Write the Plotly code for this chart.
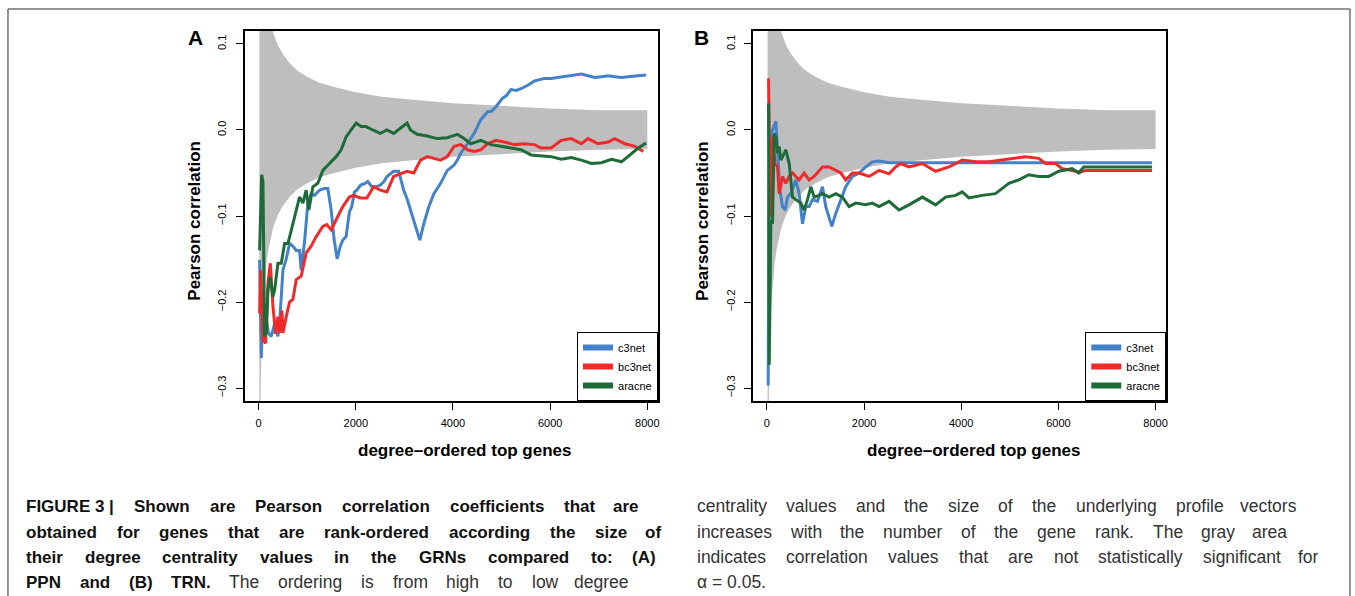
import plotly.graph_objects as go

# ---------------- data ----------------
series_names = ["c3net", "bc3net", "aracne"]
series_colors = ["#4382C8", "#EE2A2A", "#1D6B38"]

# significance band (same in both panels)
band_x = [15, 20, 30, 40, 50, 60, 80, 100, 130, 160, 200, 250, 300, 400, 500, 650, 800,
          1000, 1250, 1500, 2000, 2500, 3000, 4000, 5000, 6000, 7000, 8000]
band_upper = [0.50, 0.438, 0.358, 0.310, 0.277, 0.253, 0.219, 0.196, 0.172, 0.155, 0.139, 0.124,
              0.113, 0.098, 0.088, 0.077, 0.069, 0.062, 0.055, 0.051, 0.044, 0.039, 0.036,
              0.031, 0.028, 0.025, 0.023, 0.023]
band_lower = [-0.50, -0.438, -0.358, -0.310, -0.277, -0.253, -0.219, -0.196, -0.172, -0.155, -0.139,
              -0.124, -0.113, -0.098, -0.088, -0.077, -0.069, -0.062, -0.055, -0.051, -0.044,
              -0.039, -0.036, -0.031, -0.028, -0.025, -0.023, -0.022]

# Panel A (PPN)
a_c3net_x = [20, 55, 90, 150, 200, 260, 330, 397, 431, 500, 568, 637, 705, 774, 842, 876, 945, 1013,
             1081, 1150, 1253, 1350, 1424, 1493, 1555, 1616, 1680, 1732, 1800, 1869, 1917, 1972, 2021,
             2100, 2193, 2246, 2331, 2420, 2504, 2580, 2641, 2779, 2883, 2986, 3055, 3124, 3228, 3317,
             3400, 3504, 3607, 3745, 3883, 4021, 4090, 4159, 4297, 4435, 4573, 4710, 4800, 4883, 5021,
             5100, 5193, 5300, 5400, 5538, 5676, 5883, 6020, 6159, 6366, 6500, 6642, 6780, 6917, 7055,
             7193, 7331, 7469, 7600, 7745, 7973]
a_c3net_y = [-0.151, -0.265, -0.200, -0.215, -0.236, -0.240, -0.225, -0.240, -0.225, -0.163, -0.150,
             -0.132, -0.135, -0.140, -0.140, -0.163, -0.130, -0.085, -0.074, -0.076, -0.070, -0.068,
             -0.068, -0.093, -0.128, -0.150, -0.135, -0.128, -0.124, -0.095, -0.089, -0.072, -0.070,
             -0.064, -0.062, -0.060, -0.066, -0.066, -0.064, -0.060, -0.054, -0.048, -0.048, -0.070,
             -0.080, -0.093, -0.112, -0.128, -0.109, -0.089, -0.074, -0.062, -0.047, -0.041, -0.035,
             -0.027, -0.016, -0.004, 0.012, 0.021, 0.022, 0.027, 0.037, 0.040, 0.047, 0.046, 0.048,
             0.052, 0.057, 0.060, 0.060, 0.061, 0.063, 0.064, 0.065, 0.063, 0.061, 0.062, 0.063, 0.062,
             0.061, 0.062, 0.063, 0.064]

a_bc3net_x = [20, 41, 89, 144, 192, 240, 294, 349, 397, 431, 479, 500, 568, 637, 705, 774, 876, 979,
              1081, 1184, 1321, 1400, 1493, 1595, 1732, 1869, 1952, 2090, 2228, 2366, 2504, 2641, 2779,
              2917, 3055, 3193, 3331, 3469, 3607, 3745, 3883, 4021, 4159, 4297, 4435, 4573, 4710, 4883,
              5055, 5262, 5469, 5676, 5814, 6021, 6228, 6435, 6642, 6780, 6986, 7193, 7331, 7538, 7745,
              7917]
a_bc3net_y = [-0.213, -0.163, -0.244, -0.248, -0.178, -0.155, -0.205, -0.237, -0.217, -0.236, -0.210,
              -0.236, -0.217, -0.200, -0.197, -0.174, -0.170, -0.143, -0.135, -0.124, -0.112, -0.110,
              -0.116, -0.105, -0.089, -0.078, -0.076, -0.079, -0.079, -0.066, -0.070, -0.072, -0.054,
              -0.051, -0.048, -0.050, -0.035, -0.031, -0.033, -0.035, -0.031, -0.019, -0.017, -0.023,
              -0.025, -0.023, -0.016, -0.012, -0.014, -0.017, -0.016, -0.017, -0.021, -0.021, -0.012,
              -0.010, -0.016, -0.010, -0.016, -0.014, -0.010, -0.016, -0.019, -0.025]

a_aracne_x = [20, 62, 89, 103, 123, 157, 192, 240, 294, 329, 397, 466, 534, 603, 705, 774, 842, 911, 979,
              1034, 1116, 1218, 1321, 1458, 1595, 1698, 1800, 1903, 2006, 2109, 2211, 2348, 2504, 2641,
              2779, 2917, 3055, 3124, 3262, 3469, 3676, 3883, 4090, 4228, 4366, 4573, 4779, 4986, 5193,
              5400, 5607, 5814, 6021, 6228, 6435, 6642, 6848, 7055, 7262, 7469, 7642, 7814, 7973]
a_aracne_y = [-0.140, -0.052, -0.060, -0.155, -0.240, -0.236, -0.186, -0.171, -0.194, -0.186, -0.155,
              -0.155, -0.132, -0.132, -0.109, -0.093, -0.078, -0.085, -0.070, -0.093, -0.066, -0.062,
              -0.047, -0.039, -0.031, -0.023, -0.008, 0.000, 0.008, 0.004, 0.004, 0.000, -0.004, 0.000,
              -0.004, 0.002, 0.008, 0.000, -0.005, -0.007, -0.010, -0.009, -0.005, -0.010, -0.016,
              -0.012, -0.017, -0.019, -0.021, -0.023, -0.029, -0.030, -0.031, -0.034, -0.032, -0.035,
              -0.039, -0.038, -0.034, -0.037, -0.029, -0.021, -0.015]

# Panel B (TRN)
b_c3net_x = [27, 40, 62, 116, 185, 219, 267, 322, 377, 425, 493, 596, 664, 733, 801, 870, 938, 1041,
             1144, 1212, 1281, 1336, 1418, 1521, 1623, 1760, 1897, 2034, 2171, 2308, 2514, 7925]
b_c3net_y = [-0.297, -0.100, -0.020, 0.000, 0.010, -0.027, -0.070, -0.089, -0.093, -0.078, -0.074,
             -0.058, -0.074, -0.109, -0.089, -0.089, -0.081, -0.083, -0.066, -0.089, -0.101, -0.112,
             -0.097, -0.081, -0.066, -0.054, -0.050, -0.043, -0.037, -0.036, -0.038, -0.038]

b_bc3net_x = [34, 48, 75, 116, 171, 219, 253, 322, 390, 459, 527, 596, 664, 767, 870, 973, 1075, 1144,
              1281, 1418, 1521, 1623, 1760, 1897, 2103, 2308, 2514, 2651, 2754, 2925, 3199, 3473, 3747,
              4021, 4295, 4569, 4843, 5117, 5322, 5596, 5733, 5939, 6076, 6281, 6453, 6555, 7925]
b_bc3net_y = [0.060, -0.027, -0.101, -0.008, -0.039, -0.043, -0.074, -0.054, -0.062, -0.054, -0.050,
              -0.054, -0.058, -0.050, -0.058, -0.054, -0.047, -0.043, -0.043, -0.047, -0.050, -0.058,
              -0.050, -0.050, -0.054, -0.047, -0.051, -0.043, -0.039, -0.043, -0.039, -0.048, -0.043,
              -0.035, -0.037, -0.037, -0.035, -0.033, -0.031, -0.033, -0.039, -0.039, -0.045, -0.047,
              -0.049, -0.047, -0.047]

b_aracne_x = [34, 48, 82, 116, 151, 185, 219, 253, 288, 322, 390, 459, 527, 596, 699, 767, 836, 904, 973,
              1075, 1144, 1281, 1418, 1555, 1692, 1829, 2034, 2171, 2308, 2514, 2719, 2925, 3199, 3473,
              3678, 3884, 4021, 4158, 4432, 4706, 4980, 5185, 5391, 5596, 5802, 6007, 6281, 6418, 6521,
              7925]
b_aracne_y = [0.031, -0.273, -0.105, -0.109, -0.004, -0.008, -0.027, -0.019, -0.035, -0.031, -0.023,
              -0.039, -0.078, -0.081, -0.085, -0.093, -0.081, -0.066, -0.078, -0.076, -0.074, -0.078,
              -0.074, -0.078, -0.089, -0.085, -0.087, -0.085, -0.089, -0.083, -0.093, -0.087, -0.078,
              -0.087, -0.078, -0.076, -0.072, -0.079, -0.076, -0.074, -0.062, -0.058, -0.052, -0.054,
              -0.054, -0.048, -0.045, -0.050, -0.043, -0.043]

x_ticks = [0, 2000, 4000, 6000, 8000]
y_ticks = [-0.3, -0.2, -0.1, 0.0, 0.1]
panel_labels = ["A", "B"]
x_title = "degree\u2013ordered top genes"
y_title = "Pearson correlation"

caption_left = [
    [("FIGURE\u00a03\u00a0|", True), ("Shown", True), ("are", True), ("Pearson", True), ("correlation", True),
     ("coefficients", True), ("that", True), ("are", True)],
    [(w, True) for w in "obtained for genes that are rank-ordered according the size of".split()],
    [(w, True) for w in "their degree centrality values in the GRNs compared to: (A)".split()],
    [(w, True) for w in "PPN and (B) TRN.".split()] +
    [(w, False) for w in "The ordering is from high to low degree".split()],
]
caption_right = [
    [(w, False) for w in "centrality values and the size of the underlying profile vectors".split()],
    [(w, False) for w in "increases with the number of the gene rank. The gray area".split()],
    [(w, False) for w in "indicates correlation values that are not statistically significant for".split()],
    [("\u03b1 = 0.05.", False)],
]

# ---------------- layout helpers ----------------
W, H = 1355, 596


def px(xp):
    return xp / W


def py(yp):
    return 1 - yp / H


REG = dict(zip("abcdefghijklmnopqrstuvwxyz",
               [556, 556, 500, 556, 556, 278, 556, 556, 222, 222, 500, 222, 833, 556, 556, 556, 556, 333,
                500, 278, 556, 500, 722, 500, 500, 500]))
REG.update(dict(zip("ABCDEFGHIJKLMNOPQRSTUVWXYZ",
                    [667, 667, 722, 722, 667, 611, 778, 722, 278, 500, 667, 556, 833, 722, 778, 667, 778,
                     722, 667, 611, 722, 667, 944, 667, 667, 611])))
REG.update({" ": 278, "\u00a0": 278, ".": 278, ",": 278, "(": 333, ")": 333, "-": 333, ":": 278,
            "|": 260, "=": 584, "\u03b1": 580})
BOLD = dict(zip("abcdefghijklmnopqrstuvwxyz",
                [556, 611, 556, 611, 556, 333, 611, 611, 278, 278, 556, 278, 889, 611, 611, 611, 611, 389,
                 556, 333, 611, 556, 778, 556, 556, 500]))
BOLD.update(dict(zip("ABCDEFGHIJKLMNOPQRSTUVWXYZ",
                     [722, 722, 722, 722, 667, 611, 778, 722, 278, 556, 722, 611, 833, 722, 778, 667, 778,
                      722, 667, 611, 722, 667, 944, 667, 667, 611])))
BOLD.update({" ": 278, "\u00a0": 278, ".": 278, ",": 278, "(": 333, ")": 333, "-": 333, ":": 333,
             "|": 280, "=": 584})

CAP_FONT = "Liberation Sans, Arial, Helvetica, sans-serif"
BOLD_SIZE = 17
REG_SIZE = 17.5


def word_w(word, bold):
    tbl = BOLD if bold else REG
    size = BOLD_SIZE if bold else REG_SIZE
    return sum(tbl.get(ch, 556) for ch in word) * size / 1000


annotations = []


def caption_line(tokens, left, right, yc, justify=True):
    widths = [word_w(w, b) for w, b in tokens]
    n = len(tokens)
    if justify and n > 1:
        gap = (right - left - sum(widths)) / (n - 1)
    else:
        gap = 278 * REG_SIZE / 1000
    x = left
    for i, (w, b) in enumerate(tokens):
        last = justify and n > 1 and i == n - 1
        annotations.append(dict(
            text=w, xref="paper", yref="paper",
            x=px(right) if last else px(x), y=py(yc),
            xanchor="right" if last else "left", yanchor="middle", showarrow=False,
            font=dict(family=CAP_FONT, size=BOLD_SIZE if b else REG_SIZE,
                      color="#111" if b else "#333",
                      weight="bold" if b else "normal"),
            borderpad=0,
        ))
        x += widths[i] + gap


left_rights = [641, 663, 658, 631]
right_rights = [1300, 1290, 1322, None]
line_y = [506, 532, 557, 582]
for tokens, r, yc in zip(caption_left, left_rights, line_y):
    caption_line(tokens, 25, r, yc)
for tokens, r, yc in zip(caption_right, right_rights, line_y):
    caption_line(tokens, 697, r if r else 0, yc, justify=r is not None)

# ---------------- figure ----------------
fig = go.Figure()

panels = [
    dict(xa="x", ya="y", leg="legend",
         series=[(a_c3net_x, a_c3net_y), (a_bc3net_x, a_bc3net_y), (a_aracne_x, a_aracne_y)]),
    dict(xa="x2", ya="y2", leg="legend2",
         series=[(b_c3net_x, b_c3net_y), (b_bc3net_x, b_bc3net_y), (b_aracne_x, b_aracne_y)]),
]

for p in panels:
    fig.add_trace(go.Scatter(x=band_x, y=band_upper, mode="lines", line=dict(width=0, color="#BEBEBE"),
                             xaxis=p["xa"], yaxis=p["ya"], showlegend=False, hoverinfo="skip"))
    fig.add_trace(go.Scatter(x=band_x, y=band_lower, mode="lines", line=dict(width=0, color="#BEBEBE"),
                             fill="tonexty", fillcolor="#BEBEBE",
                             xaxis=p["xa"], yaxis=p["ya"], showlegend=False, hoverinfo="skip"))
    for (sx, sy), name, col in zip(p["series"], series_names, series_colors):
        fig.add_trace(go.Scatter(x=sx, y=sy, mode="lines", name=name,
                                 line=dict(color=col, width=3), xaxis=p["xa"], yaxis=p["ya"],
                                 showlegend=False))
    for name, col in zip(series_names, series_colors):
        fig.add_trace(go.Scatter(x=[None], y=[None], mode="lines", name=name,
                                 line=dict(color=col, width=6), xaxis=p["xa"], yaxis=p["ya"],
                                 legend=p["leg"], showlegend=True))

AX_FONT = dict(family="Liberation Sans, Arial, sans-serif", size=11, color="#000")
xaxis_common = dict(range=[-288, 8220], tickvals=x_ticks, tickformat="d", ticks="outside", ticklen=7,
                    tickwidth=1, tickcolor="#000", showline=True, linecolor="#000", linewidth=1.5,
                    mirror=True, showgrid=False, zeroline=False, tickfont=AX_FONT, ticklabelstandoff=4)
yaxis_common = dict(range=[-0.3151, 0.1151], tickvals=y_ticks, tickformat=".1f", ticks="outside",
                    ticklen=7, tickwidth=1, tickcolor="#000", showline=True, linecolor="#000",
                    linewidth=1.5, mirror=True, showgrid=False, zeroline=False, tickangle=-90,
                    tickfont=AX_FONT, domain=[py(401), py(31)], ticklabelstandoff=5)

legend_common = dict(bordercolor="#000", borderwidth=1, bgcolor="#fff",
                     font=dict(family="Liberation Sans, Arial, sans-serif", size=11, color="#000"),
                     xanchor="right", yanchor="bottom", tracegroupgap=0, itemwidth=30,
                     traceorder="normal")

fig.update_layout(
    width=W, height=H, margin=dict(l=0, r=0, t=0, b=0),
    paper_bgcolor="#fff", plot_bgcolor="#fff",
    xaxis=dict(xaxis_common, domain=[px(245), px(659)], anchor="y"),
    yaxis=dict(yaxis_common, anchor="x"),
    xaxis2=dict(xaxis_common, domain=[px(754), px(1168)], anchor="y2"),
    yaxis2=dict(yaxis_common, anchor="x2"),
    legend=dict(legend_common, x=px(659), y=py(401)),
    legend2=dict(legend_common, x=px(1168), y=py(401)),
    showlegend=True,
)

TITLE_FONT = dict(family="Liberation Sans, Arial, sans-serif", size=17, color="#000", weight="bold")
for cx, lbl, lx, ly in [(466, panel_labels[0], 196, 38), (975, panel_labels[1], 703, 38)]:
    annotations.append(dict(text=x_title, xref="paper", yref="paper", x=px(cx), y=py(450),
                            xanchor="center", yanchor="middle", showarrow=False, font=TITLE_FONT))
    annotations.append(dict(text=lbl, xref="paper", yref="paper", x=px(lx), y=py(ly),
                            xanchor="center", yanchor="middle", showarrow=False,
                            font=dict(family="Liberation Sans, Arial, sans-serif", size=21,
                                      color="#000", weight="bold")))
for cx in [194, 703]:
    annotations.append(dict(text=y_title, xref="paper", yref="paper", x=px(cx), y=py(221),
                            xanchor="center", yanchor="middle", textangle=-90, showarrow=False,
                            font=TITLE_FONT))

fig.update_layout(annotations=annotations)

# outer figure frame
frame = dict(type="line", xref="paper", yref="paper", line=dict(color="#707070", width=1.5))
fig.update_layout(shapes=[
    dict(frame, x0=px(8), x1=px(1352), y0=py(9), y1=py(9)),
    dict(frame, x0=px(8), x1=px(8), y0=py(9), y1=py(600)),
    dict(frame, x0=px(1352), x1=px(1352), y0=py(9), y1=py(600)),
])

fig.write_html("out.html", config={"displayModeBar": False},
               post_script="document.body.style.margin='0';document.body.style.overflow='hidden';")
